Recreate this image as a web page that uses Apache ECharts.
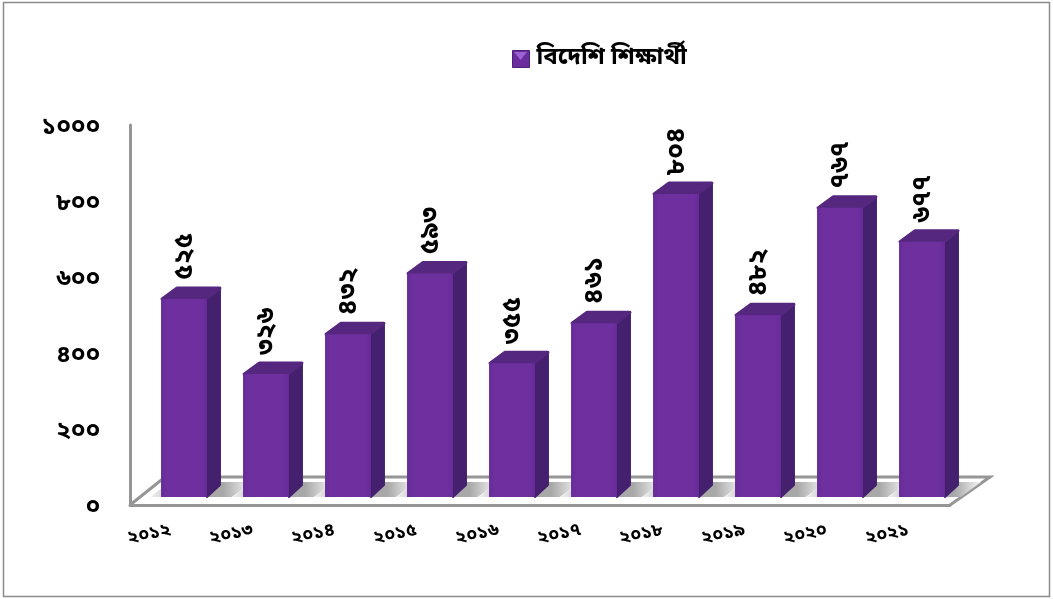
<!DOCTYPE html>
<html>
<head>
<meta charset="utf-8">
<title>বিদেশি শিক্ষার্থী</title>
<style>
html, body { margin: 0; padding: 0; background: #fff; }
#main { width: 1053px; height: 599px; }
</style>
<script src="https://cdn.jsdelivr.net/npm/echarts@6/dist/echarts.min.js"></script>
</head>
<body>
<div id="main"></div>
<script>
var seriesName = 'বিদেশি শিক্ষার্থী';
var categories = ['২০১২', '২০১৩', '২০১৪', '২০১৫', '২০১৬', '২০১৭', '২০১৮', '২০১৯', '২০২০', '২০২১'];
var values = [525, 326, 432, 593, 355, 461, 804, 482, 767, 677];
var valueLabels = ['৫২৫', '৩২৬', '৪৩২', '৫৯৩', '৩৫৫', '৪৬১', '৮০৪', '৪৮২', '৭৬৭', '৬৭৭'];
var tickValues = [0, 200, 400, 600, 800, 1000];
var tickLabels = ['০', '২০০', '৪০০', '৬০০', '৮০০', '১০০০'];

var fontName = '"Noto Sans Bengali", "Noto Sans", "DejaVu Sans", sans-serif';
var chart = echarts.init(document.getElementById('main'));

// depth of the fake 3d box
var dx = 14, dy = -12;

function renderBar(params, api) {
    var i = api.value(0);
    var top = api.coord([i, api.value(1)]);
    var base = api.coord([i, 0]);
    var w = api.size([1, 0])[0] * 0.56;
    var l = top[0] - w / 2, r = top[0] + w / 2;
    // grey stripe on the floor, the last one stops at the floor edge
    var sl = l - 11, sr = i === values.length - 1 ? r + 16 : r + 25;
    return {
        type: 'group',
        children: [
            {type: 'polygon', z2: 1, shape: {points: [[sl, base[1]], [sl + 20, base[1] - 15], [sr + 20, base[1] - 15], [sr, base[1]]]},
                style: {fill: new echarts.graphic.LinearGradient(0, 0, 1, 0, [
                    {offset: 0, color: '#f4f4f4'}, {offset: 0.3, color: '#a8a8a8'}, {offset: 0.72, color: '#a8a8a8'}, {offset: 1, color: '#f8f8f8'}])}},
            {type: 'polygon', z2: 2, shape: {points: [[r, top[1]], [r + dx - 1, top[1] + dy + 1], [r + dx - 1, base[1] + dy], [r, base[1]]]},
                style: {fill: '#44206f', stroke: '#44206f', lineWidth: 2, lineJoin: 'round'}},
            {type: 'polygon', z2: 2, shape: {points: [[l + 1, top[1]], [l + dx + 2, top[1] + dy + 1], [r + dx - 1, top[1] + dy + 1], [r - 1, top[1]]]},
                style: {fill: '#55277f', stroke: '#55277f', lineWidth: 3, lineJoin: 'round'}},
            {type: 'rect', z2: 3, shape: {x: l, y: top[1], width: w, height: base[1] - top[1]},
                style: {fill: new echarts.graphic.LinearGradient(0, 0, 1, 0, [
                    {offset: 0, color: '#672b99'}, {offset: 0.12, color: '#6e2f9f'}, {offset: 0.88, color: '#6e2f9f'}, {offset: 1, color: '#672b99'}])}},
            {type: 'text', z2: 4, x: top[0] + 3, y: top[1] + dy - 7, rotation: Math.PI / 2,
                style: {text: valueLabels[i], fill: '#000', font: 'bold 26px ' + fontName, textAlign: 'left', textVerticalAlign: 'middle'}}
        ]
    };
}

var option = {
    animation: false,
    backgroundColor: '#fff',
    textStyle: {fontFamily: fontName},
    legend: {
        left: 507, top: 42, itemWidth: 17, itemHeight: 17, itemGap: 6, icon: 'rect',
        selectedMode: false,
        textStyle: {fontSize: 24, fontWeight: 'bold', color: '#000', fontFamily: fontName, padding: [0, 0, 0, 2]},
        data: [{name: seriesName, itemStyle: {color: '#6b2c9e', borderColor: '#4a2378', borderWidth: 1}}]
    },
    grid: [
        // bars stand on the middle of the floor, so their plane is shifted from the axis plane
        {left: 143, top: 120, width: 820, height: 377},
        {left: 130, top: 125, width: 820, height: 380},
        // tick labels sit a little lower than the axis line ends
        {left: 130, top: 129, width: 820, height: 380}
    ],
    xAxis: [
        {gridIndex: 0, type: 'category', data: categories, show: false},
        {gridIndex: 1, type: 'category', data: categories,
            axisLine: {lineStyle: {color: '#969696', width: 3}}, axisTick: {show: false},
            axisLabel: {rotate: 12, margin: 26, color: '#000', fontSize: 18, fontWeight: 'bold', fontFamily: fontName}},
        {gridIndex: 2, type: 'category', data: categories, show: false}
    ],
    yAxis: [
        {gridIndex: 0, type: 'value', min: 0, max: 1000, show: false},
        {gridIndex: 1, type: 'value', min: 0, max: 1000, interval: 200,
            axisLine: {show: true, lineStyle: {color: '#969696', width: 3}}, axisTick: {show: false},
            splitLine: {show: false}, axisLabel: {show: false}},
        {gridIndex: 2, type: 'value', min: 0, max: 1000, interval: 200,
            axisLine: {show: false}, axisTick: {show: false}, splitLine: {show: false},
            axisLabel: {margin: 30, color: '#000', fontSize: 24, fontWeight: 'bold', fontFamily: fontName,
                formatter: function (v) { return tickLabels[tickValues.indexOf(v)]; }}}
    ],
    graphic: [
        {type: 'rect', z: -1, shape: {x: 3.5, y: 2.5, width: 1046, height: 594}, style: {fill: 'none', stroke: '#8c8c8c', lineWidth: 1.5}},
        {type: 'polyline', z: -1, shape: {points: [[130, 505], [165, 477], [990, 477], [950, 505]]}, style: {fill: 'none', stroke: '#969696', lineWidth: 3}},
        {type: 'polygon', z: 100, shape: {points: [[514, 52], [527, 52], [520.5, 60]]}, style: {fill: '#9a62d2'}}
    ],
    series: [{
        name: seriesName,
        type: 'custom',
        xAxisIndex: 0,
        yAxisIndex: 0,
        renderItem: renderBar,
        itemStyle: {color: '#6b2c9e'},
        encode: {x: 0, y: 1},
        data: values.map(function (v, i) { return [i, v]; })
    }]
};
chart.setOption(option);
</script>
</body>
</html>
